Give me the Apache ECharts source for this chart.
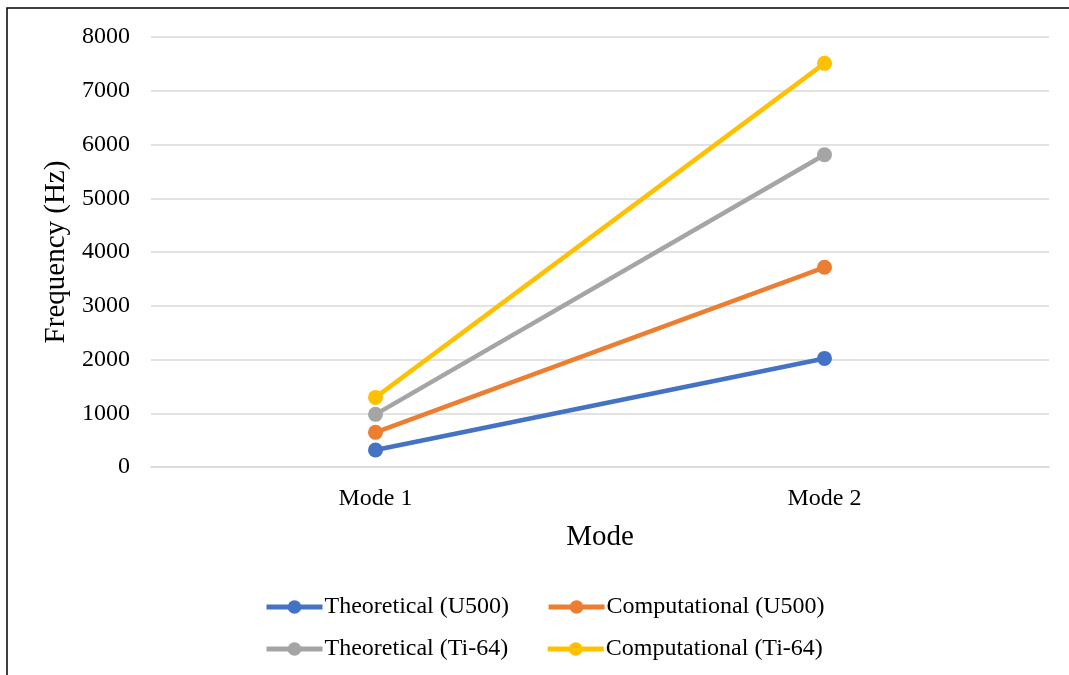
<!DOCTYPE html>
<html>
<head>
<meta charset="utf-8">
<script src="https://cdn.jsdelivr.net/npm/echarts@6/dist/echarts.min.js"></script>
<style>
  html, body { margin: 0; padding: 0; background: #fff; }
  #chart { width: 1069px; height: 675px; }
</style>
</head>
<body>
<div id="chart"></div>
<script>
// Natural frequencies for the first two modes
const modes = ['Mode 1', 'Mode 2'];
const theoreticalU500 = [316, 2020];
const computationalU500 = [645, 3715];
const theoreticalTi64 = [980, 5810];
const computationalTi64 = [1295, 7510];

const seriesNames = [
  'Theoretical (U500)',
  'Computational (U500)',
  'Theoretical (Ti-64)',
  'Computational (Ti-64)'
];
const seriesData = [theoreticalU500, computationalU500, theoreticalTi64, computationalTi64];
const colors = ['#4472C4', '#ED7D31', '#A5A5A5', '#FFC000'];

const font = '"Liberation Serif", "Times New Roman", serif';

const chart = echarts.init(document.getElementById('chart'));

const legendCommon = {
  orient: 'horizontal',
  itemWidth: 56,
  itemHeight: 17,
  itemGap: 37,
  lineStyle: { width: 5 },
  textStyle: { fontFamily: font, fontSize: 24, color: '#000', padding: [0, 0, 0, -3] },
  selectedMode: false
};

chart.setOption({
  animation: false,
  color: colors,
  graphic: [{
    type: 'rect',
    shape: { x: 7, y: 8, width: 1100, height: 700 },
    style: { fill: 'none', stroke: '#000', lineWidth: 1.5 },
    silent: true
  }],
  grid: { left: 151, right: 20, top: 37, bottom: 208, containLabel: false },
  legend: [
    Object.assign({ left: 259, top: 590, data: seriesNames.slice(0, 2) }, legendCommon),
    Object.assign({ left: 259, top: 632, data: seriesNames.slice(2, 4) }, legendCommon)
  ],
  xAxis: {
    type: 'category',
    data: modes,
    boundaryGap: true,
    name: 'Mode',
    nameLocation: 'middle',
    nameGap: 56,
    nameTextStyle: { fontFamily: font, fontSize: 29, color: '#000' },
    axisLine: { show: true, lineStyle: { color: '#d9d9d9', width: 1.5 } },
    axisTick: { show: false },
    axisLabel: { fontFamily: font, fontSize: 24, color: '#000', margin: 20 }
  },
  yAxis: {
    type: 'value',
    min: 0,
    max: 8000,
    interval: 1000,
    name: 'Frequency (Hz)',
    nameLocation: 'middle',
    nameGap: 71,
    nameTextStyle: { fontFamily: font, fontSize: 29, color: '#000' },
    axisLine: { show: false },
    axisTick: { show: false },
    axisLabel: {
      fontFamily: font, fontSize: 24, color: '#000', margin: 21,
      formatter: (v) => String(v)
    },
    splitLine: { show: true, lineStyle: { color: '#d9d9d9', width: 1.5 } }
  },
  series: seriesNames.map((name, i) => ({
    name: name,
    type: 'line',
    data: seriesData[i],
    symbol: 'circle',
    symbolSize: 15,
    lineStyle: { width: 4.5, color: colors[i] },
    itemStyle: { color: colors[i] }
  }))
});
</script>
</body>
</html>
